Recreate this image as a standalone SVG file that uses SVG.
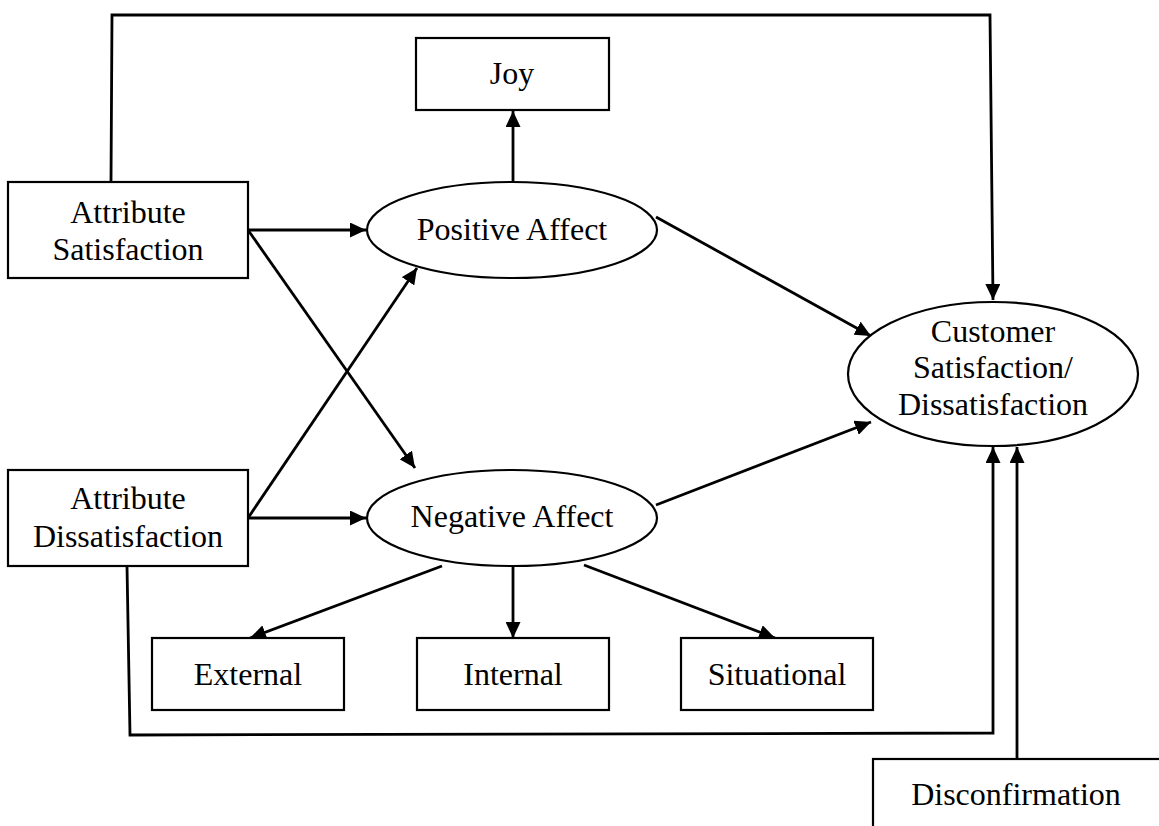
<svg xmlns="http://www.w3.org/2000/svg" width="1159" height="826" viewBox="0 0 1159 826">
<style>
.box{fill:#fff;stroke:#000;stroke-width:2.2}
.ell{fill:#fff;stroke:#000;stroke-width:2.2}
.t{font-family:"Liberation Serif","Times New Roman",serif;font-size:32px;fill:#000;text-anchor:middle}
.c{fill:none;stroke:#000;stroke-width:2.8}
.a{marker-end:url(#arr)}
</style>
<defs>
<marker id="arr" markerUnits="userSpaceOnUse" markerWidth="17" markerHeight="15" refX="16" refY="7.5" orient="auto">
<path d="M0,0 L16,7.5 L0,15 z" fill="#000"/>
</marker>
</defs>
<rect width="1159" height="826" fill="#fff"/>
<g id="connectors">
<polyline class="c a" points="111,182 112,15 990,15 993,300"/>
<polyline class="c a" points="127,566 130,735 993,733 993,447"/>
<line class="c a" x1="1017" y1="759" x2="1017" y2="447"/>
<line class="c a" x1="513" y1="182" x2="513" y2="111"/>
<line class="c a" x1="248" y1="230" x2="366" y2="230"/>
<line class="c a" x1="248" y1="230" x2="415" y2="468"/>
<line class="c a" x1="248" y1="518" x2="417" y2="268"/>
<line class="c a" x1="248" y1="518" x2="366" y2="518"/>
<line class="c a" x1="656" y1="217" x2="871" y2="336"/>
<line class="c a" x1="656" y1="505" x2="871" y2="422"/>
<line class="c a" x1="442" y1="566" x2="250" y2="638"/>
<line class="c a" x1="513" y1="566" x2="513" y2="638"/>
<line class="c a" x1="584" y1="565" x2="775" y2="638"/>
</g>
<g id="joy"><rect class="box" x="416" y="38" width="193" height="72"/><text class="t" x="512" y="84">Joy</text></g>
<g id="attr-sat"><rect class="box" x="8" y="182" width="240" height="96"/><text class="t" x="128" y="223">Attribute</text><text class="t" x="128" y="260">Satisfaction</text></g>
<g id="positive"><ellipse class="ell" cx="512" cy="230" rx="145" ry="48"/><text class="t" x="512" y="240">Positive Affect</text></g>
<g id="customer"><ellipse class="ell" cx="993" cy="374" rx="145" ry="72"/><text class="t" x="993" y="342">Customer</text><text class="t" x="993" y="378">Satisfaction/</text><text class="t" x="993" y="415">Dissatisfaction</text></g>
<g id="attr-dis"><rect class="box" x="8" y="470" width="240" height="96"/><text class="t" x="128" y="509">Attribute</text><text class="t" x="128" y="547">Dissatisfaction</text></g>
<g id="negative"><ellipse class="ell" cx="512" cy="518" rx="145" ry="48"/><text class="t" x="512" y="527">Negative Affect</text></g>
<g id="external"><rect class="box" x="152" y="638" width="192" height="72"/><text class="t" x="248" y="685">External</text></g>
<g id="internal"><rect class="box" x="417" y="638" width="192" height="72"/><text class="t" x="513" y="685">Internal</text></g>
<g id="situational"><rect class="box" x="681" y="638" width="192" height="72"/><text class="t" x="777" y="685">Situational</text></g>
<g id="disconfirmation"><rect class="box" x="873" y="759" width="300" height="80"/><text class="t" x="1016" y="805">Disconfirmation</text></g>
</svg>
